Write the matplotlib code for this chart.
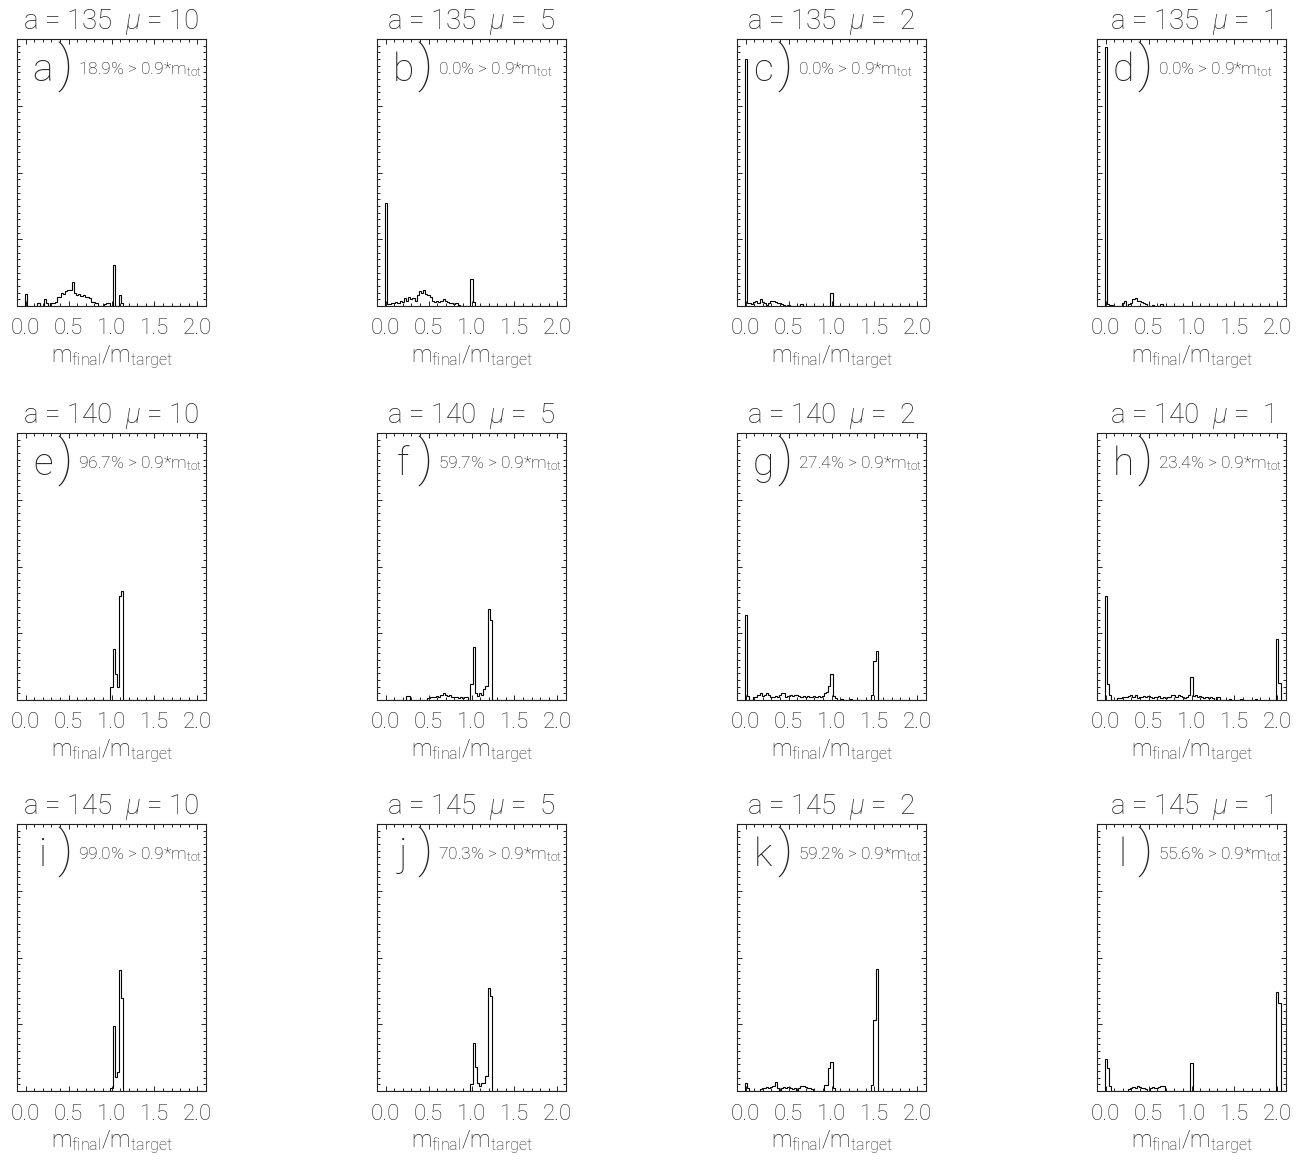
import numpy as np
import matplotlib
matplotlib.use("Agg")
import matplotlib.pyplot as plt
from matplotlib.ticker import MultipleLocator

plt.rcParams['font.family'] = ['Roboto', 'DejaVu Sans']
plt.rcParams['font.weight'] = 'light'
plt.rcParams['axes.titleweight'] = 'light'
plt.rcParams['axes.labelweight'] = 'light'
plt.rcParams['mathtext.fontset'] = 'custom'
plt.rcParams['mathtext.rm'] = 'Roboto:light'
plt.rcParams['mathtext.it'] = 'Roboto:italic:light'

a_values = [135, 140, 145]
mu_values = [10, 5, 2, 1]
panel_letters = list("abcdefghijkl")
pct_above = [18.9, 0.0, 0.0, 0.0, 96.7, 59.7, 27.4, 23.4, 99.0, 70.3, 59.2, 55.6]

bin_width = 0.025
n_bins = 84

# histogram heights (fraction of the plot height), keyed by bin centre in m_final/m_target
hist_a = {0.0: 0.045, 0.15: 0.01, 0.225: 0.025, 0.25: 0.01, 0.3: 0.012, 0.325: 0.012,
          0.35: 0.016, 0.375: 0.035, 0.4: 0.035, 0.425: 0.05, 0.45: 0.045, 0.475: 0.055,
          0.5: 0.06, 0.525: 0.06, 0.55: 0.089, 0.575: 0.047, 0.6: 0.04, 0.625: 0.045,
          0.65: 0.037, 0.675: 0.04, 0.7: 0.035, 0.725: 0.035, 0.75: 0.03, 0.775: 0.016,
          0.8: 0.016, 0.825: 0.01, 0.925: 0.008, 0.95: 0.012, 0.975: 0.012,
          1.025: 0.154, 1.1: 0.04, 1.125: 0.01}
hist_b = {0.0: 0.385, 0.025: 0.006, 0.05: 0.008, 0.075: 0.01, 0.1: 0.012, 0.125: 0.016,
          0.15: 0.012, 0.175: 0.02, 0.2: 0.015, 0.225: 0.03, 0.25: 0.02, 0.275: 0.035,
          0.3: 0.025, 0.325: 0.03, 0.35: 0.02, 0.375: 0.04, 0.4: 0.055, 0.425: 0.05,
          0.45: 0.06, 0.475: 0.045, 0.5: 0.04, 0.525: 0.035, 0.55: 0.02, 0.575: 0.015,
          0.6: 0.02, 0.625: 0.015, 0.65: 0.02, 0.675: 0.025, 0.7: 0.02, 0.725: 0.015,
          0.75: 0.01, 0.775: 0.012, 0.8: 0.008, 0.825: 0.01, 0.85: 0.005,
          1.0: 0.1, 1.025: 0.015}
hist_c = {0.0: 0.924, 0.025: 0.01, 0.05: 0.012, 0.075: 0.008, 0.1: 0.015, 0.125: 0.02,
          0.15: 0.01, 0.175: 0.025, 0.2: 0.015, 0.225: 0.01, 0.25: 0.005, 0.275: 0.012,
          0.3: 0.018, 0.325: 0.02, 0.35: 0.015, 0.375: 0.01, 0.4: 0.012, 0.425: 0.008,
          0.45: 0.005, 0.5: 0.004, 0.65: 0.006, 1.0: 0.05}
hist_d = {0.0: 0.97, 0.025: 0.008, 0.05: 0.005, 0.075: 0.005, 0.2: 0.012, 0.225: 0.02,
          0.275: 0.008, 0.3: 0.01, 0.325: 0.025, 0.35: 0.03, 0.375: 0.02, 0.4: 0.02,
          0.425: 0.015, 0.45: 0.01, 0.475: 0.006, 0.55: 0.005, 0.65: 0.008}
hist_e = {1.0: 0.047, 1.025: 0.19, 1.05: 0.097, 1.075: 0.047, 1.1: 0.39, 1.125: 0.41}
hist_f = {0.25: 0.015, 0.275: 0.015, 0.5: 0.008, 0.525: 0.01, 0.55: 0.012, 0.575: 0.01,
          0.6: 0.015, 0.625: 0.012, 0.65: 0.02, 0.675: 0.027, 0.7: 0.02, 0.725: 0.015,
          0.75: 0.018, 0.775: 0.012, 0.8: 0.01, 0.825: 0.012, 0.85: 0.008, 0.875: 0.01,
          0.9: 0.008, 0.925: 0.012, 0.95: 0.01, 1.0: 0.059, 1.025: 0.2, 1.05: 0.027,
          1.075: 0.015, 1.1: 0.027, 1.125: 0.02, 1.15: 0.04, 1.175: 0.052, 1.2: 0.34,
          1.225: 0.3}
hist_g = {0.0: 0.32, 0.025: 0.015, 0.1: 0.01, 0.125: 0.012, 0.15: 0.02, 0.175: 0.025,
          0.2: 0.015, 0.225: 0.02, 0.25: 0.025, 0.275: 0.02, 0.3: 0.012, 0.325: 0.012,
          0.35: 0.015, 0.375: 0.012, 0.4: 0.02, 0.425: 0.025, 0.45: 0.025, 0.475: 0.012,
          0.5: 0.015, 0.525: 0.02, 0.55: 0.015, 0.575: 0.018, 0.6: 0.02, 0.625: 0.015,
          0.65: 0.012, 0.675: 0.015, 0.7: 0.012, 0.725: 0.015, 0.75: 0.01, 0.775: 0.012,
          0.8: 0.015, 0.825: 0.01, 0.85: 0.015, 0.875: 0.012, 0.9: 0.015, 0.925: 0.025,
          0.95: 0.03, 0.975: 0.052, 1.0: 0.096, 1.025: 0.015, 1.05: 0.008, 1.125: 0.005,
          1.225: 0.004, 1.475: 0.02, 1.5: 0.146, 1.525: 0.184}
hist_h = {0.0: 0.39, 0.025: 0.06, 0.05: 0.02, 0.15: 0.008, 0.175: 0.008, 0.2: 0.01,
          0.225: 0.01, 0.25: 0.012, 0.275: 0.015, 0.3: 0.02, 0.325: 0.012, 0.35: 0.02,
          0.375: 0.008, 0.4: 0.01, 0.425: 0.012, 0.45: 0.015, 0.475: 0.01, 0.5: 0.015,
          0.525: 0.012, 0.55: 0.008, 0.575: 0.012, 0.6: 0.01, 0.625: 0.015, 0.65: 0.008,
          0.675: 0.01, 0.7: 0.008, 0.725: 0.01, 0.75: 0.012, 0.775: 0.02, 0.8: 0.02,
          0.825: 0.012, 0.85: 0.02, 0.875: 0.015, 0.9: 0.012, 0.925: 0.008, 0.95: 0.01,
          0.975: 0.02, 1.0: 0.086, 1.025: 0.015, 1.05: 0.02, 1.075: 0.01, 1.1: 0.015,
          1.125: 0.012, 1.15: 0.008, 1.175: 0.01, 1.2: 0.008, 1.225: 0.01, 1.25: 0.006,
          1.3: 0.012, 1.325: 0.01, 1.45: 0.005, 1.575: 0.004, 1.75: 0.005,
          2.0: 0.227, 2.025: 0.065}
hist_i = {1.0: 0.013, 1.025: 0.245, 1.05: 0.051, 1.075: 0.072, 1.1: 0.452, 1.125: 0.35}
hist_j = {1.0: 0.026, 1.025: 0.18, 1.05: 0.09, 1.075: 0.03, 1.1: 0.02, 1.125: 0.03,
          1.15: 0.03, 1.175: 0.058, 1.2: 0.387, 1.225: 0.356}
hist_k = {0.0: 0.03, 0.025: 0.01, 0.175: 0.008, 0.2: 0.01, 0.225: 0.012, 0.25: 0.015,
          0.275: 0.012, 0.3: 0.015, 0.325: 0.02, 0.35: 0.035, 0.375: 0.012, 0.425: 0.01,
          0.45: 0.015, 0.475: 0.012, 0.5: 0.015, 0.525: 0.012, 0.55: 0.008, 0.575: 0.01,
          0.625: 0.012, 0.65: 0.02, 0.675: 0.018, 0.7: 0.015, 0.725: 0.01, 0.75: 0.012,
          0.775: 0.008, 0.925: 0.022, 0.95: 0.022, 0.975: 0.088, 1.0: 0.11, 1.025: 0.01,
          1.475: 0.022, 1.5: 0.265, 1.525: 0.458}
hist_l = {0.0: 0.12, 0.025: 0.088, 0.05: 0.017, 0.275: 0.006, 0.3: 0.01, 0.325: 0.015,
          0.35: 0.012, 0.375: 0.018, 0.4: 0.015, 0.425: 0.01, 0.45: 0.012, 0.475: 0.008,
          0.525: 0.012, 0.55: 0.015, 0.575: 0.012, 0.6: 0.01, 0.625: 0.015, 0.65: 0.02,
          0.675: 0.018, 1.0: 0.105, 2.0: 0.369, 2.025: 0.33}

hists = [hist_a, hist_b, hist_c, hist_d, hist_e, hist_f,
         hist_g, hist_h, hist_i, hist_j, hist_k, hist_l]

W, H = 1306, 1161
col_left = [17, 377, 737, 1097]
row_top = [39, 433, 824]
ax_w, ax_h = 189, 267
ink = '#222222'

fig = plt.figure(figsize=(W / 100, H / 100), dpi=100)
edges = (np.arange(n_bins + 1) - 0.5) * bin_width

for idx, hist in enumerate(hists):
    row, col = divmod(idx, 4)
    x0, y0 = col_left[col], row_top[row]
    ax = fig.add_axes([x0 / W, 1 - (y0 + ax_h) / H, ax_w / W, ax_h / H])

    counts = np.zeros(n_bins)
    for m, h in hist.items():
        counts[int(round(m / bin_width))] = h
    ax.stairs(counts, edges, color='black', linewidth=0.8)

    ax.set_xlim(-0.1, 2.1)
    ax.set_ylim(0, 1)
    ax.xaxis.set_major_locator(MultipleLocator(0.5))
    ax.xaxis.set_minor_locator(MultipleLocator(0.1))
    ax.yaxis.set_major_locator(MultipleLocator(0.25))
    ax.yaxis.set_minor_locator(MultipleLocator(0.025))
    ax.tick_params(which='both', direction='in', top=True, right=True,
                   labelleft=False, width=0.7, color=ink)
    ax.tick_params(which='major', length=3.6, labelsize=16, pad=9, labelcolor=ink)
    ax.tick_params(which='minor', length=1.9)
    ax.set_xticks([0, 0.5, 1.0, 1.5, 2.0])
    ax.set_xticklabels(['0.0', '0.5', '1.0', '1.5', '2.0'])
    for s in ax.spines.values():
        s.set_linewidth(0.8)
        s.set_color(ink)
    ax.set_xlabel(r'm$_{\rm final}$/m$_{\rm target}$', fontsize=16.5, labelpad=3,
                  color=ink)

    mu_txt = f'{mu_values[col]:2d}'.replace(' ', '  ')
    ax.set_title(f'a = {a_values[row]}  $\\mu$ ={mu_txt}' if mu_values[col] < 10
                 else f'a = {a_values[row]}  $\\mu$ = {mu_txt}',
                 fontsize=20, pad=7, color=ink)

    ax.text(26 / ax_w, 1 - 31 / ax_h, panel_letters[idx], transform=ax.transAxes,
            fontsize=28, ha='center', va='center', color=ink)
    ax.text(48 / ax_w, 1 - 28 / ax_h, ')', transform=ax.transAxes,
            fontsize=36, ha='center', va='center', color=ink)
    ax.text(61 / ax_w, 1 - 31 / ax_h, f'{pct_above[idx]:.1f}% > 0.9*m$_{{\\rm tot}}$',
            transform=ax.transAxes, fontsize=12.5, ha='left', va='center', color='#111111')

fig.savefig('out.png', dpi=100)
